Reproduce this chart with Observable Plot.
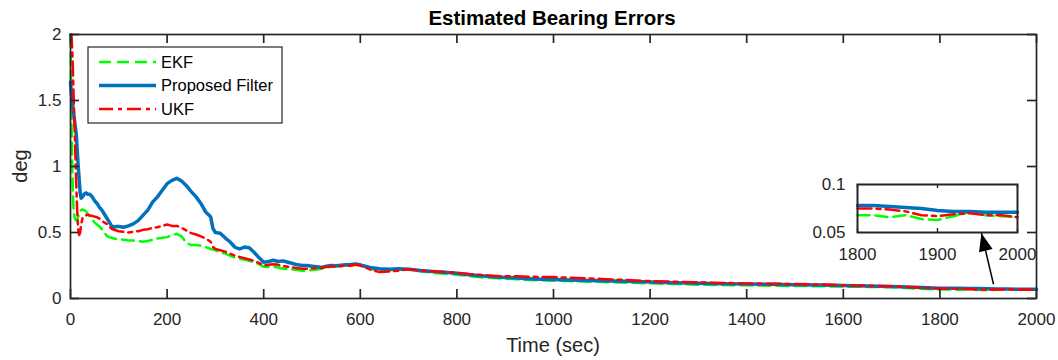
<!DOCTYPE html>
<html>
<head>
<meta charset="utf-8">
<script src="https://cdn.jsdelivr.net/npm/d3@7"></script>
<script src="https://cdn.jsdelivr.net/npm/@observablehq/plot@0.6"></script>
<style>
  html, body { margin: 0; padding: 0; background: #ffffff; }
  #wrap { position: relative; width: 1058px; height: 360px; overflow: hidden; background: #ffffff;
          font-family: "Liberation Sans", Arial, Helvetica, sans-serif; }
  #wrap svg { position: absolute; }
</style>
</head>
<body>
<div id="wrap"></div>
<script>
// ---------------- data ----------------
const time = [
  0,2,4,6,8,10,12,14,16,18,20,22,25,28,
  32,36,40,45,50,55,60,65,70,75,80,85,90,95,
  100,110,120,130,140,150,160,170,180,190,200,210,220,230,240,250,260,270,280,290,
  295,300,310,320,330,340,350,360,370,380,390,400,410,420,430,440,450,460,470,480,490,500,510,520,530,540,550,560,570,580,590,600,
  620,640,660,680,700,725,750,775,800,825,850,875,900,925,950,975,1000,
  1050,1100,1150,1200,1250,1300,1350,1400,1450,1500,1550,1600,1650,1700,1750,1800,
  1820,1840,1860,1880,1900,1920,1940,1960,1980,2000
];
const ekf = [
  2.0,1.35,0.95,0.7,0.62,0.6,0.59,0.6,0.62,0.64,0.66,0.67,0.675,0.67,
  0.66,0.64,0.62,0.6,0.575,0.56,0.545,0.525,0.5,0.475,0.465,0.46,0.455,0.45,
  0.45,0.445,0.44,0.44,0.435,0.43,0.435,0.445,0.455,0.46,0.465,0.48,0.49,0.47,0.42,0.405,0.405,0.4,0.39,0.375,
  0.37,0.365,0.35,0.34,0.325,0.31,0.3,0.295,0.285,0.275,0.26,0.24,0.24,0.24,0.235,0.225,0.222,0.22,0.215,0.21,0.212,0.215,0.22,0.225,0.235,0.24,0.245,0.245,0.25,0.25,0.255,0.25,
  0.225,0.21,0.215,0.218,0.22,0.205,0.195,0.188,0.18,0.17,0.16,0.155,0.15,0.145,0.14,0.138,0.135,
  0.13,0.125,0.12,0.115,0.11,0.105,0.102,0.1,0.097,0.095,0.093,0.09,0.088,0.085,0.076,0.068,
  0.068,0.066,0.068,0.064,0.063,0.067,0.071,0.068,0.067,0.066
];
const proposed = [
  1.64,1.55,1.48,1.42,1.36,1.30,1.24,1.12,1.00,0.90,0.80,0.76,0.77,0.79,
  0.80,0.79,0.79,0.77,0.74,0.72,0.69,0.67,0.64,0.61,0.58,0.55,0.54,0.545,
  0.545,0.54,0.55,0.565,0.59,0.63,0.67,0.73,0.77,0.82,0.87,0.895,0.91,0.89,0.855,0.81,0.77,0.72,0.655,0.62,
  0.53,0.50,0.495,0.46,0.43,0.39,0.375,0.39,0.385,0.35,0.31,0.275,0.28,0.29,0.28,0.285,0.275,0.265,0.255,0.25,0.25,0.245,0.24,0.235,0.245,0.25,0.248,0.252,0.255,0.258,0.262,0.255,
  0.235,0.225,0.222,0.225,0.222,0.212,0.205,0.198,0.192,0.18,0.172,0.165,0.16,0.155,0.15,0.146,0.143,
  0.138,0.134,0.13,0.125,0.12,0.115,0.112,0.11,0.108,0.105,0.102,0.098,0.094,0.09,0.085,0.078,
  0.078,0.077,0.076,0.075,0.073,0.072,0.072,0.071,0.071,0.071
];
const ukf = [
  2.0,2.0,1.85,1.6,1.35,1.1,0.85,0.65,0.52,0.48,0.5,0.56,0.61,0.62,
  0.63,0.635,0.63,0.625,0.62,0.615,0.605,0.59,0.575,0.565,0.545,0.53,0.52,0.515,
  0.51,0.505,0.5,0.505,0.51,0.52,0.525,0.535,0.54,0.55,0.56,0.55,0.55,0.535,0.515,0.495,0.485,0.47,0.455,0.43,
  0.39,0.375,0.365,0.355,0.34,0.325,0.315,0.305,0.295,0.285,0.27,0.25,0.255,0.26,0.255,0.245,0.24,0.235,0.23,0.225,0.225,0.23,0.228,0.232,0.24,0.245,0.24,0.245,0.25,0.248,0.258,0.25,
  0.22,0.2,0.205,0.21,0.222,0.21,0.205,0.2,0.195,0.185,0.178,0.172,0.168,0.168,0.165,0.163,0.162,
  0.155,0.148,0.14,0.132,0.127,0.122,0.118,0.114,0.112,0.11,0.106,0.1,0.096,0.092,0.084,0.075,
  0.075,0.074,0.072,0.068,0.067,0.069,0.07,0.068,0.068,0.066
];
const seriesNames = ["EKF", "Proposed Filter", "UKF"];
const xTicks = [0,200,400,600,800,1000,1200,1400,1600,1800,2000];
const yTicks = [0,0.5,1,1.5,2];
const insetXTicks = [1800,1900,2000];
const insetYTicks = [0.05,0.1];
const insetXDomain = [1800,2000];
const insetYDomain = [0.05,0.1];
const arrowTail = [1911, 0.108];
const arrowHead = [1886, 0.495];
const titleText = "Estimated Bearing Errors";
const xLabel = "Time (sec)";
const yLabel = "deg";

// ---------------- build ----------------
[ekf, proposed, ukf].forEach((a, i) => {
  if (a.length !== time.length) throw new Error(seriesNames[i] + " length " + a.length + " vs " + time.length);
});
const values = [ekf, proposed, ukf];
const styles = [
  {stroke: "#00ff00", strokeWidth: 2.5, strokeDasharray: "12,6"},
  {stroke: "#0072bd", strokeWidth: 3.5, strokeDasharray: null},
  {stroke: "#ff0000", strokeWidth: 2.5, strokeDasharray: "14,5,4,5"}
];
const rows = values.map(v => time.map((t, i) => ({t, v: v[i]})));

const FONT = '"Liberation Sans", Arial, Helvetica, sans-serif';
const AX = "#262626";
const W = 1058, H = 360, mt = 34, mb = 62, ml = 70, mr = 22;
const ph = H - mt - mb, pw = W - ml - mr;
const TICK = 9;
const TF = 17;

function lineMarks(data, extra) {
  return data.map((d, i) => Plot.line(d, {x: "t", y: "v", stroke: styles[i].stroke,
    strokeWidth: styles[i].strokeWidth, strokeDasharray: styles[i].strokeDasharray,
    strokeLinejoin: "round", ...extra}));
}

const main = Plot.plot({
  width: W, height: H, marginTop: mt, marginBottom: mb, marginLeft: ml, marginRight: mr,
  style: {fontFamily: FONT, fontSize: TF + "px", color: AX, background: "transparent", overflow: "visible"},
  x: {domain: [0, 2000]},
  y: {domain: [0, 2]},
  marks: [
    ...lineMarks(rows),
    Plot.ruleX(xTicks, {x: d => d, insetTop: ph - TICK, stroke: AX, strokeWidth: 1.7}),
    Plot.ruleX(xTicks, {x: d => d, insetBottom: ph - TICK, stroke: AX, strokeWidth: 1.7}),
    Plot.ruleY(yTicks, {y: d => d, insetRight: pw - TICK, stroke: AX, strokeWidth: 1.7}),
    Plot.ruleY(yTicks, {y: d => d, insetLeft: pw - TICK, stroke: AX, strokeWidth: 1.7}),
    Plot.axisX({ticks: xTicks, tickSize: 0, tickPadding: 14, label: null, tickFormat: d => String(d), fontSize: TF}),
    Plot.axisY({ticks: yTicks, tickSize: 0, tickPadding: 9, label: null, tickFormat: d => String(d), fontSize: TF}),
    Plot.frame({stroke: AX, strokeWidth: 1.7}),
    Plot.link([{a: arrowTail, b: arrowHead}], {x1: d => d.a[0], y1: d => d.a[1], x2: d => d.b[0], y2: d => d.b[1], stroke: "#000", strokeWidth: 1.5}),
    Plot.vector([arrowHead], {x: d => d[0], y: d => d[1], length: 18, r: 7, rotate: -14, shape: "spike", anchor: "end", fill: "#000", stroke: "none"})
  ]
});
main.style.left = "0px"; main.style.top = "0px";
document.getElementById("wrap").appendChild(main);

// inset
const iL = 40, iR = 10, iT = 5, iB = 30, iW = 160, iH = 48;
const insetRows = rows.map(r => r.filter(d => d.t >= insetXDomain[0] && d.t <= insetXDomain[1]));
const inset = Plot.plot({
  width: iL + iW + iR, height: iT + iH + iB, marginLeft: iL, marginRight: iR, marginTop: iT, marginBottom: iB,
  style: {fontFamily: FONT, fontSize: TF + "px", color: AX, background: "transparent", overflow: "visible"},
  x: {domain: insetXDomain},
  y: {domain: insetYDomain},
  marks: [
    Plot.frame({fill: "#fff", stroke: "none"}),
    ...lineMarks(insetRows),
    Plot.ruleX(insetXTicks, {x: d => d, insetTop: iH - 4, stroke: AX, strokeWidth: 1.4}),
    Plot.ruleX(insetXTicks, {x: d => d, insetBottom: iH - 4, stroke: AX, strokeWidth: 1.4}),
    Plot.axisX({ticks: insetXTicks, tickSize: 0, tickPadding: 15, label: null, tickFormat: d => String(d), fontSize: TF}),
    Plot.axisY({ticks: insetYTicks, tickSize: 0, tickPadding: 12, label: null, tickFormat: d => String(d), fontSize: TF}),
    Plot.frame({stroke: AX, strokeWidth: 2})
  ]
});
inset.style.left = (857 - iL) + "px"; inset.style.top = (184 - iT) + "px";
document.getElementById("wrap").appendChild(inset);

// overlay: title, axis labels, legend
const ov = d3.create("svg").attr("width", W).attr("height", H)
  .style("left", "0px").style("top", "0px").style("font-family", FONT);
ov.append("text").attr("x", 552).attr("y", 18).attr("dy", "0.35em").attr("text-anchor", "middle")
  .attr("font-weight", "bold").attr("font-size", 20.5).attr("fill", "#000").text(titleText);
ov.append("text").attr("x", 553).attr("y", 345).attr("dy", "0.35em").attr("text-anchor", "middle")
  .attr("font-size", 20).attr("fill", AX).text(xLabel);
ov.append("text").attr("transform", "translate(20,166) rotate(-90)").attr("dy", "0.35em").attr("text-anchor", "middle")
  .attr("font-size", 20).attr("fill", AX).text(yLabel);
const lg = ov.append("g");
lg.append("rect").attr("x", 88).attr("y", 47).attr("width", 194).attr("height", 76)
  .attr("fill", "#fff").attr("stroke", AX).attr("stroke-width", 1.2);
seriesNames.forEach((name, i) => {
  const y = 62 + i * 23.5;
  lg.append("line").attr("x1", 99).attr("x2", 156).attr("y1", y).attr("y2", y)
    .attr("stroke", styles[i].stroke).attr("stroke-width", styles[i].strokeWidth)
    .attr("stroke-dasharray", styles[i].strokeDasharray);
  lg.append("text").attr("x", 161).attr("y", y).attr("dy", "0.35em").attr("font-size", 16.5)
    .attr("fill", "#000").text(name);
});
document.getElementById("wrap").appendChild(ov.node());
</script>
</body>
</html>
